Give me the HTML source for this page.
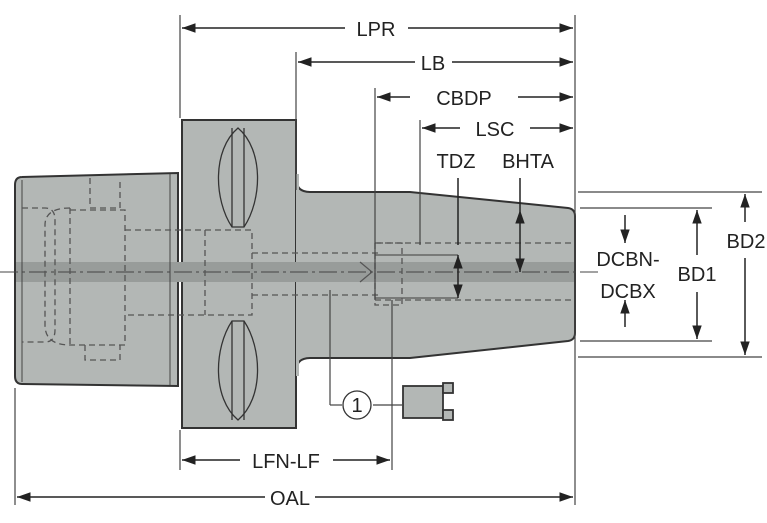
<!DOCTYPE html>
<html><head><meta charset="utf-8"><style>
html,body{margin:0;padding:0;background:#fff;width:767px;height:523px;overflow:hidden}
svg{display:block}
text{font-family:"Liberation Sans",sans-serif;font-size:20px;fill:#222}
</style></head><body>
<svg width="767" height="523" viewBox="0 0 767 523" xmlns="http://www.w3.org/2000/svg">
<defs>
<marker id="a" viewBox="0 0 10 10" refX="10" refY="5" markerWidth="9" markerHeight="9" orient="auto-start-reverse"><path d="M0,1.5 L10,5 L0,8.5z" fill="#222"/></marker>
</defs>
<g stroke="#333" stroke-width="2" fill="#b3b7b5">
<path d="M22,177 L178,173 L178,386 L22,384 Q15,384 15,376 L15,185 Q15,177 22,177z"/>
<rect x="182" y="120" width="114" height="308"/>
<path d="M296,178 Q296,192 310,192 L410,192 L568,208 Q575,209 575,216 L575,333 Q575,340 568,341 L410,358 L310,358 Q296,358 296,372z"/>
</g>
<rect x="296" y="174" width="3" height="202" fill="#b3b7b5"/>
<rect x="16" y="262" width="558" height="20" fill="#989c9a"/>
<line x1="0" y1="272" x2="600" y2="272" stroke="#444" stroke-width="1" stroke-dasharray="18,4,3,4"/>
<line x1="170" y1="174" x2="170" y2="385" stroke="#444" stroke-width="1"/>
<line x1="22" y1="180" x2="22" y2="382" stroke="#444" stroke-width="1"/>
<g stroke="#333" stroke-width="1.3" fill="none">
<path d="M238,128 C212,150 214,200 232,227 L244,227 C262,200 264,150 238,128z"/>
<line x1="232" y1="128" x2="232" y2="227"/><line x1="244" y1="128" x2="244" y2="227"/>
<path d="M238,420 C212,398 214,348 232,321 L244,321 C262,348 264,398 238,420z"/>
<line x1="232" y1="321" x2="232" y2="420"/><line x1="244" y1="321" x2="244" y2="420"/>
</g>
<g stroke="#555" stroke-width="1.3" fill="none" stroke-dasharray="6,4">
<path d="M22,208 L45,208 Q55,208 55,220 L55,330 Q55,342 45,342 L22,342"/>
<path d="M70,208 Q45,208 45,225 L45,325 Q45,345 70,345"/>
<path d="M70,208 L70,345"/>
<path d="M90,178 L90,208 L120,208 L120,178"/>
<path d="M70,210 L125,210 L125,345 L70,345"/>
<path d="M85,345 L85,360 L120,360 L120,345"/>
<path d="M125,230 L252,230 L252,315 L125,315"/>
<path d="M205,230 L205,315"/>
<path d="M252,253 L380,253 M252,295 L380,295"/>
<path d="M375,243 L575,243 M375,300 L575,300"/>
<path d="M375,243 L375,305 L402,305 L402,243z"/>
</g>
<g stroke="#555" stroke-width="1.2" fill="none">
<line x1="375" y1="255" x2="458" y2="255"/><line x1="375" y1="298" x2="458" y2="298"/>
<path d="M360,262 L372,272 L360,282"/>
</g>
<g stroke="#444" stroke-width="1.2">
<line x1="180" y1="15" x2="180" y2="118"/>
<line x1="296" y1="52" x2="296" y2="190"/>
<line x1="375" y1="88" x2="375" y2="300"/>
<line x1="392" y1="300" x2="392" y2="470"/>
<line x1="420" y1="120" x2="420" y2="245"/>
<line x1="575" y1="15" x2="575" y2="505"/>
<line x1="15" y1="388" x2="15" y2="505"/>
<line x1="180" y1="430" x2="180" y2="470"/>
<line x1="578" y1="192" x2="762" y2="192"/>
<line x1="578" y1="357" x2="762" y2="357"/>
<line x1="580" y1="208" x2="712" y2="208"/>
<line x1="580" y1="341" x2="712" y2="341"/>
<line x1="330" y1="290" x2="330" y2="405"/><line x1="330" y1="405" x2="342" y2="405"/>
<line x1="373" y1="405" x2="402" y2="405"/>
</g>
<g stroke="#222" stroke-width="1.5" fill="none">
<line x1="182" y1="28" x2="345" y2="28" marker-start="url(#a)"/><line x1="408" y1="28" x2="573" y2="28" marker-end="url(#a)"/>
<line x1="298" y1="62" x2="415" y2="62" marker-start="url(#a)"/><line x1="452" y1="62" x2="573" y2="62" marker-end="url(#a)"/>
<line x1="377" y1="97" x2="410" y2="97" marker-start="url(#a)"/><line x1="518" y1="97" x2="573" y2="97" marker-end="url(#a)"/>
<line x1="422" y1="128" x2="460" y2="128" marker-start="url(#a)"/><line x1="530" y1="128" x2="573" y2="128" marker-end="url(#a)"/>
<line x1="182" y1="460" x2="240" y2="460" marker-start="url(#a)"/><line x1="333" y1="460" x2="390" y2="460" marker-end="url(#a)"/>
<line x1="17" y1="497" x2="265" y2="497" marker-start="url(#a)"/><line x1="315" y1="497" x2="573" y2="497" marker-end="url(#a)"/>
<line x1="458" y1="178" x2="458" y2="245"/><line x1="458" y1="255" x2="458" y2="298" marker-start="url(#a)" marker-end="url(#a)"/>
<line x1="520" y1="178" x2="520" y2="210"/><line x1="520" y1="210" x2="520" y2="272" marker-start="url(#a)" marker-end="url(#a)"/>
<line x1="625" y1="215" x2="625" y2="243" marker-end="url(#a)"/><line x1="625" y1="327" x2="625" y2="300" marker-end="url(#a)"/>
<line x1="697" y1="210" x2="697" y2="255" marker-start="url(#a)"/><line x1="697" y1="292" x2="697" y2="339" marker-end="url(#a)"/>
<line x1="745" y1="194" x2="745" y2="222" marker-start="url(#a)"/><line x1="745" y1="258" x2="745" y2="355" marker-end="url(#a)"/>
</g>
<g stroke="#333" stroke-width="1.8" fill="#b3b7b5">
<rect x="403" y="386" width="40" height="32"/>
<rect x="443" y="383" width="10" height="10"/><rect x="443" y="410" width="10" height="10"/>
</g>
<circle cx="357" cy="405" r="14" fill="#fff" stroke="#333" stroke-width="1.3"/>
<text x="357" y="412" text-anchor="middle" font-size="18">1</text>
<text x="376" y="36" text-anchor="middle">LPR</text>
<text x="433" y="70" text-anchor="middle">LB</text>
<text x="464" y="105" text-anchor="middle">CBDP</text>
<text x="495" y="136" text-anchor="middle">LSC</text>
<text x="456" y="168" text-anchor="middle">TDZ</text>
<text x="528" y="168" text-anchor="middle">BHTA</text>
<text x="628" y="266" text-anchor="middle">DCBN-</text>
<text x="628" y="298" text-anchor="middle">DCBX</text>
<text x="697" y="281" text-anchor="middle">BD1</text>
<text x="746" y="248" text-anchor="middle">BD2</text>
<text x="286" y="468" text-anchor="middle">LFN-LF</text>
<text x="290" y="505" text-anchor="middle">OAL</text>
</svg>
</body></html>
